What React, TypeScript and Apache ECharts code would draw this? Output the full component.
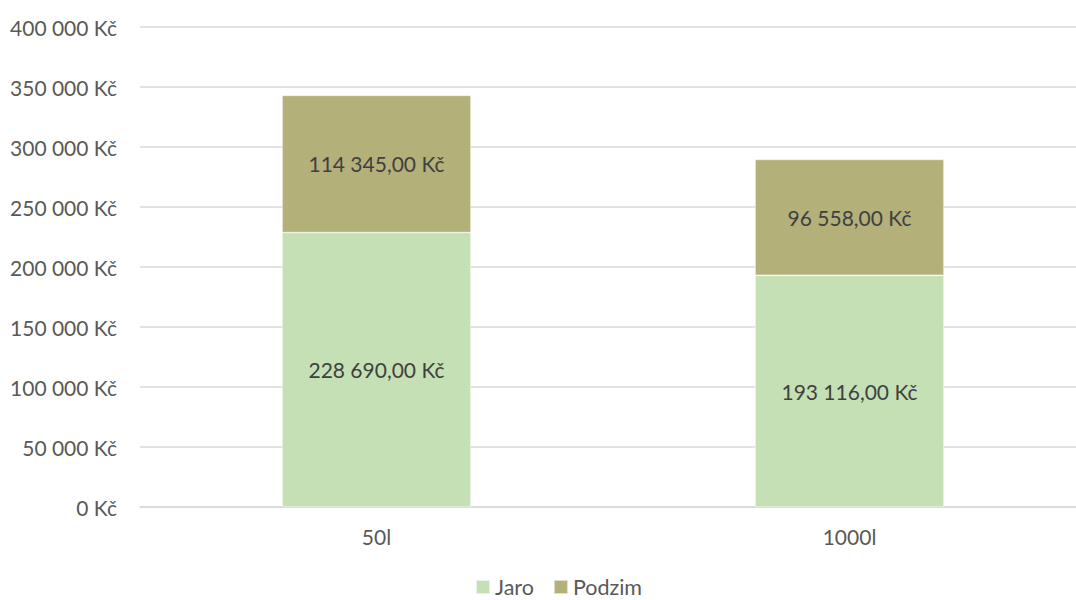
import React, { useEffect, useRef } from "react";
import * as echarts from "echarts";

// Costs per container size, split by season
const categories = ["50l", "1000l"];
const jaroValues = [228690, 193116];
const podzimValues = [114345, 96558];
const seriesNames = ["Jaro", "Podzim"];

const axisMin = 0;
const axisMax = 400000;
const axisStep = 50000;

const FONT = "Lato, 'Open Sans', sans-serif";

const groupThousands = (n: number) =>
  Math.round(n)
    .toString()
    .replace(/\B(?=(\d{3})+(?!\d))/g, " ");

const axisFormat = (v: number) => `${groupThousands(v)} Kč`;
const labelFormat = (v: number) => `${groupThousands(v)},00 Kč`;

export default function App() {
  const ref = useRef<HTMLDivElement>(null);

  useEffect(() => {
    if (!ref.current) return;
    const chart = echarts.init(ref.current, undefined, { renderer: "svg" });

    const barLabel = {
      show: true,
      position: "inside" as const,
      color: "#404040",
      fontFamily: FONT,
      fontSize: 21,
      formatter: (p: any) => labelFormat(p.value),
    };

    chart.setOption({
      animation: false,
      backgroundColor: "#ffffff",
      textStyle: { fontFamily: FONT },
      // plot area runs past the visible edge on the right
      grid: { left: 140, right: 10, top: 27, bottom: 93, containLabel: false },
      legend: {
        data: seriesNames,
        top: 576,
        left: 475,
        padding: 0,
        itemWidth: 14,
        itemHeight: 14,
        itemGap: 19,
        icon: "rect",
        textStyle: { color: "#595959", fontSize: 21.5, lineHeight: 21, fontFamily: FONT },
      },
      xAxis: {
        type: "category",
        data: categories,
        axisLine: { show: true, lineStyle: { color: "#d9d9d9", width: 1.5 } },
        axisTick: { show: false },
        axisLabel: { color: "#595959", fontSize: 21, fontFamily: FONT, margin: 19 },
      },
      yAxis: {
        type: "value",
        min: axisMin,
        max: axisMax,
        interval: axisStep,
        axisLine: { show: false },
        axisTick: { show: false },
        splitLine: { lineStyle: { color: "#d9d9d9", width: 1.5 } },
        axisLabel: {
          color: "#595959",
          fontSize: 21,
          fontFamily: FONT,
          margin: 23,
          formatter: axisFormat,
        },
      },
      series: [
        {
          name: seriesNames[0],
          type: "bar",
          stack: "total",
          data: jaroValues,
          barWidth: 189,
          itemStyle: { color: "#c5e0b4", borderColor: "rgba(255,255,255,0.6)", borderWidth: 0.75 },
          label: barLabel,
        },
        {
          name: seriesNames[1],
          type: "bar",
          stack: "total",
          data: podzimValues,
          barWidth: 189,
          itemStyle: { color: "#b3b07a", borderColor: "rgba(255,255,255,0.6)", borderWidth: 0.75 },
          label: barLabel,
        },
      ],
    });

    return () => chart.dispose();
  }, []);

  return (
    <div
      style={{
        position: "fixed",
        left: 0,
        top: 0,
        width: 1076,
        height: 600,
        overflow: "hidden",
        background: "#ffffff",
      }}
    >
      <div ref={ref} style={{ width: 1096, height: 600 }} />
    </div>
  );
}
